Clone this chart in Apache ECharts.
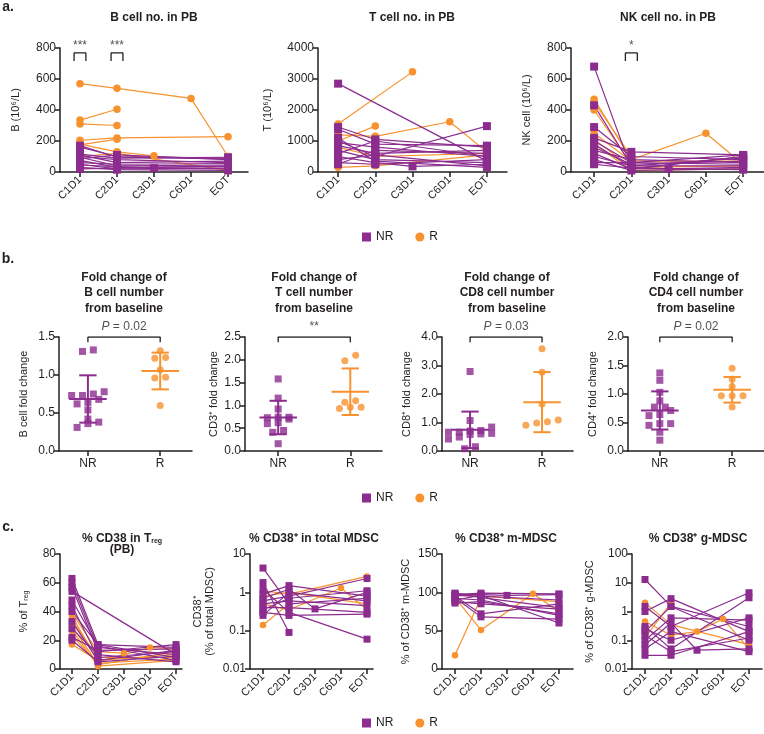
<!DOCTYPE html>
<html>
<head>
<meta charset="utf-8">
<script src="https://cdn.jsdelivr.net/npm/echarts@6/dist/echarts.min.js"></script>
<style>
html, body { margin: 0; background: #fff; }
#chart { width: 764px; height: 734px; }
</style>
</head>
<body>
<div id="chart"></div>
<script>
// ---- data ----
const timepoints = ['C1D1', 'C2D1', 'C3D1', 'C6D1', 'EOT'];
const groups = ['NR', 'R'];

// a. absolute counts (10^6/L), one row per patient, null = not sampled
const bCellNR = [
  [170, 95, null, null, 85], [160, 100, null, null, 90], [110, 60, null, null, 70],
  [100, 80, null, null, 60], [95, 40, null, null, 45], [85, 110, null, null, 80],
  [75, 30, null, null, 35], [60, 50, null, null, 55], [50, 20, null, null, 25],
  [45, 35, 25, null, 20], [30, 15, null, null, 10], [20, 25, null, null, 40],
  [115, 90, null, null, 95]
];
const bCellR = [
  [570, 540, null, 475, 100], [335, 405, null, null, null], [310, 300, null, null, null],
  [205, 220, null, null, 228], [180, 130, 105, null, null], [175, 212, null, null, null],
  [100, 120, null, null, 10]
];
const tCellNR = [
  [2850, null, null, null, 350], [1450, 1050, null, null, 800], [1380, 900, null, null, 850],
  [1000, 500, null, null, 1480], [950, 800, null, null, 500], [850, 600, null, null, 700],
  [700, 400, null, null, 300], [600, 1000, null, null, 500], [500, 300, 180, null, 250],
  [400, 550, null, null, 200], [300, 250, null, null, 400], [250, 700, null, null, 600],
  [1100, 350, null, null, 150]
];
const tCellR = [
  [1550, null, 3230, null, null], [1000, 1480, null, null, null], [1200, 1150, null, 1620, 650],
  [150, 200, null, null, 550], [800, 500, null, null, 600]
];
const nkCellNR = [
  [680, 20, null, null, 100], [430, 40, null, null, 90], [290, 100, null, null, 80],
  [220, 130, null, null, 110], [200, 60, null, null, 50], [180, 30, 20, null, 30],
  [160, 50, null, null, 70], [140, 80, null, null, 60], [120, 20, null, null, 100],
  [100, 40, null, null, 40], [80, 10, null, null, 20], [60, 60, null, null, 110],
  [50, 25, null, null, 15]
];
const nkCellR = [
  [470, 80, null, 250, 50], [450, 100, null, null, null], [400, 50, null, null, null],
  [250, 70, null, null, 70], [210, 30, null, null, 40], [180, 10, null, null, 20]
];

// b. fold change from baseline
const foldB_NR = [1.31, 1.33, 0.78, 0.73, 0.68, 0.73, 0.75, 0.62, 0.64, 0.54, 0.42, 0.38, 0.31, 0.36];
const foldB_R = [1.32, 1.23, 1.22, 1.07, 0.97, 0.96, 0.60];
const foldT_NR = [1.58, 1.16, 0.92, 0.74, 0.73, 0.74, 0.62, 0.70, 0.60, 0.45, 0.41, 0.16];
const foldT_R = [2.10, 1.98, 1.10, 0.96, 1.07, 0.96, 0.93];
const foldCD8_NR = [2.79, 1.07, 0.84, 0.72, 0.70, 0.66, 0.66, 0.62, 0.60, 0.58, 0.49, 0.42, 0.15, 0.08];
const foldCD8_R = [3.59, 2.76, 1.65, 1.09, 0.90, 1.03, 0.98];
const foldCD4_NR = [1.37, 1.24, 1.03, 0.88, 0.77, 0.71, 0.77, 0.64, 0.62, 0.48, 0.45, 0.48, 0.33, 0.19];
const foldCD4_R = [1.45, 1.26, 1.13, 0.97, 0.97, 0.97, 0.77];
const foldSig = ['P = 0.02', '**', 'P = 0.03', 'P = 0.02'];

// c. CD38 expression
const tregNR = [
  [63, 17, null, null, 15], [60, 15, null, null, 10], [57, 12, null, null, 17],
  [54, null, null, null, 10], [48, 16, null, null, 6], [44, 8, null, null, 12],
  [40, 17, null, null, 8], [33, 6, null, null, 13], [28, 10, null, null, 5],
  [22, 13, null, null, 14], [20, 5, null, null, 9]
];
const tregR = [
  [39, 12, 11, null, null], [37, 5, null, 15, 14], [34, 8, null, null, 8],
  [30, 3, null, null, 12], [27, 2, null, null, 6], [23, 4, null, null, 7], [17, 6, null, null, 10]
];
const mdscNR = [
  [4.3, 0.5, null, null, 0.7], [1.8, 0.09, null, null, null], [1.2, 0.3, null, null, 0.06],
  [0.9, 1.5, null, null, 0.8], [0.7, 1.2, 0.37, null, 1.0], [0.6, 0.8, null, null, 2.3],
  [0.5, 0.6, null, null, 0.45], [0.4, 0.4, null, null, 0.3], [0.3, 0.25, null, null, 0.27],
  [0.25, 1.0, null, null, 0.6], [0.35, 0.7, null, null, 1.1]
];
const mdscR = [
  [1.1, 0.9, null, null, 2.6], [0.14, 0.5, null, null, null],
  [0.5, 0.35, null, 1.3, 0.35], [0.8, 1.0, null, null, 0.5]
];
const mMdscNR = [
  [98, 97, 96, null, 97], [96, 95, null, null, 90], [95, 72, null, null, 85],
  [93, 68, null, null, 65], [92, 90, null, null, 70], [90, 96, null, null, 60],
  [88, 85, null, null, 78], [97, 99, null, null, 98], [99, 93, null, null, 80],
  [86, 88, null, null, 72]
];
const mMdscR = [
  [18, 93, null, null, null], [93, 51, null, 98, 75], [96, 95, null, null, 88]
];
const gMdscNR = [
  [13, 1.5, null, null, 0.1], [1.5, 0.3, null, null, 4.5], [1.0, 2.8, null, null, 0.2],
  [0.3, 0.05, null, null, 3.0], [0.2, 1.5, null, null, 0.3], [0.1, 0.6, null, null, 0.5],
  [0.07, 0.4, 0.045, null, 0.05], [0.05, 0.2, null, null, 0.04], [0.03, 0.03, null, null, 0.2],
  [0.15, 0.04, null, null, 0.12], [0.25, 0.1, null, null, 0.6]
];
const gMdscR = [
  [2.0, 0.35, null, null, 0.07], [0.45, 0.15, 0.2, 0.55, 0.05], [0.12, 2.0, null, null, null]
];

// ---- style ----
const PURPLE = '#8b2c8e';
const ORANGE = '#f7922f';
const INK = '#231f20';
const FONT = "'Liberation Sans Narrow', 'Liberation Sans', Arial, sans-serif";

const linePanels = [
  { nr: bCellNR, r: bCellR, box: [60, 48, 188, 124], x: [-0.54, 4.54], y: { type: 'value', min: 0, max: 800, interval: 200 },
    name: 'B (10⁶/L)', gap: 38, title: 'B cell no. in PB', tx: 154, ty: 18, size: 8 },
  { nr: tCellNR, r: tCellR, box: [318, 48, 189, 124], x: [-0.54, 4.54], y: { type: 'value', min: 0, max: 4000, interval: 1000 },
    name: 'T (10⁶/L)', gap: 44, title: 'T cell no. in PB', tx: 412, ty: 18, size: 8 },
  { nr: nkCellNR, r: nkCellR, box: [571, 48, 193, 124], x: [-0.62, 4.56], y: { type: 'value', min: 0, max: 800, interval: 200 },
    name: 'NK cell (10⁶/L)', gap: 38, title: 'NK cell no. in PB', tx: 668, ty: 18, size: 8 },
  { nr: tregNR, r: tregR, box: [60, 554, 122, 115], x: [-0.46, 4.23], y: { type: 'value', min: 0, max: 80, interval: 20 },
    name: '{a|% of T}{s|reg}', gap: 30, title: '{b|% CD38 in T}{s|reg}\n{b|(PB)}', tx: 122, ty: 544, size: 7 },
  { nr: mdscNR, r: mdscR, box: [250, 554, 123, 115], x: [-0.5, 4.23], y: { type: 'log', logBase: 10, min: 0.01, max: 10 },
    name: 'CD38⁺\n(% of total MDSC)', gap: 34, title: '% CD38⁺ in total MDSC', tx: 314, ty: 539, size: 7 },
  { nr: mMdscNR, r: mMdscR, box: [442, 554, 131, 115], x: [-0.5, 4.54], y: { type: 'value', min: 0, max: 150, interval: 50 },
    name: '% of CD38⁺ m-MDSC', gap: 30, title: '% CD38⁺ m-MDSC', tx: 506, ty: 539, size: 7 },
  { nr: gMdscNR, r: gMdscR, box: [632, 554, 130, 115], x: [-0.5, 4.5], y: { type: 'log', logBase: 10, min: 0.01, max: 100 },
    name: '% of CD38⁺ g-MDSC', gap: 36, title: '% CD38⁺ g-MDSC', tx: 698, ty: 539, size: 7 }
];
const sigLine = [
  { panel: 0, at: 0, text: '***' }, { panel: 0, at: 1, text: '***' }, { panel: 2, at: 1, text: '*' }
];

const foldPanels = [
  { nr: foldB_NR, r: foldB_R, box: [59, 337, 133, 114], x: [-0.40, 1.44], max: 1.5, interval: 0.5,
    name: 'B cell fold change', gap: 30, title: 'Fold change of\nB cell number\nfrom baseline', tx: 124 },
  { nr: foldT_NR, r: foldT_R, box: [245, 337, 137, 114], x: [-0.46, 1.44], max: 2.5, interval: 0.5,
    name: 'CD3⁺ fold change', gap: 26, title: 'Fold change of\nT cell number\nfrom baseline', tx: 314 },
  { nr: foldCD8_NR, r: foldCD8_R, box: [442, 337, 131, 114], x: [-0.39, 1.43], max: 4.0, interval: 1.0,
    name: 'CD8⁺ fold change', gap: 30, title: 'Fold change of\nCD8 cell number\nfrom baseline', tx: 507 },
  { nr: foldCD4_NR, r: foldCD4_R, box: [628, 337, 136, 114], x: [-0.44, 1.44], max: 2.0, interval: 0.5,
    name: 'CD4⁺ fold change', gap: 30, title: 'Fold change of\nCD4 cell number\nfrom baseline', tx: 696 }
];

// ---- build ----
const option = { animation: false, grid: [], xAxis: [], yAxis: [], series: [], graphic: [], legend: [] };

function axisLine() {
  return { show: true, onZero: false, lineStyle: { color: INK, width: 1.5 } };
}
function tick() {
  return { show: true, length: 5, lineStyle: { color: INK, width: 1.5 } };
}
function text(x, y, str, font, extra) {
  option.graphic.push({
    type: 'text', x: x, y: y, silent: true,
    style: Object.assign({ text: str, font: font, fill: INK, textAlign: 'center', textVerticalAlign: 'middle' }, extra || {})
  });
}

linePanels.forEach(function (p) {
  const gi = option.grid.length;
  option.grid.push({ left: p.box[0], top: p.box[1], width: p.box[2], height: p.box[3] });
  option.xAxis.push({
    type: 'value', gridIndex: gi, min: p.x[0], max: p.x[1], splitLine: { show: false },
    axisLine: axisLine(),
    axisTick: Object.assign(tick(), { customValues: [0, 1, 2, 3, 4] }),
    axisLabel: { customValues: [0, 1, 2, 3, 4], formatter: v => timepoints[Math.round(v)], rotate: 45,
      fontSize: 11, fontFamily: FONT, color: INK, margin: 6 }
  });
  option.yAxis.push(Object.assign({
    gridIndex: gi, splitLine: { show: false }, axisLine: axisLine(), axisTick: tick(),
    axisLabel: { fontSize: 12, fontFamily: FONT, color: INK, margin: 4, formatter: v => String(+(+v).toPrecision(3)) },
    name: p.name, nameLocation: 'middle', nameGap: p.gap,
    nameTextStyle: { fontSize: 11, fontFamily: FONT, color: INK, lineHeight: 12,
      rich: { a: { fontSize: 11, fontFamily: FONT, color: INK }, s: { fontSize: 7, fontFamily: FONT, color: INK, padding: [4, 0, 0, 0] } } }
  }, p.y));
  [[p.r, 'R', ORANGE, 'circle'], [p.nr, 'NR', PURPLE, 'rect']].forEach(function (g) {
    g[0].forEach(function (row) {
      const pts = [];
      row.forEach(function (v, i) { if (v != null) pts.push([i, v]); });
      option.series.push({
        type: 'line', name: g[1], xAxisIndex: gi, yAxisIndex: gi, data: pts, silent: true,
        symbol: g[3], symbolSize: g[3] === 'rect' ? p.size : p.size - 0.5, showSymbol: true,
        lineStyle: { color: g[2], width: 1.2 }, itemStyle: { color: g[2] }
      });
    });
  });
  text(p.tx, p.ty, p.title, 'bold 12px ' + FONT, {
    rich: { b: { font: 'bold 12px ' + FONT, fill: INK, lineHeight: 11 }, s: { font: 'bold 7px ' + FONT, fill: INK, lineHeight: 11, padding: [5, 0, 0, 0] } }
  });
});

sigLine.forEach(function (s) {
  const p = linePanels[s.panel];
  const top = p.y.max * 0.96, d = p.y.max * 0.065;
  option.series.push({
    type: 'line', xAxisIndex: s.panel, yAxisIndex: s.panel, silent: true, symbol: 'none',
    data: [[s.at - 0.16, top - d], [s.at - 0.16, top], [s.at + 0.16, top], [s.at + 0.16, top - d]],
    lineStyle: { color: INK, width: 1.3 }
  });
  option.series.push({
    type: 'scatter', xAxisIndex: s.panel, yAxisIndex: s.panel, silent: true, symbolSize: 0,
    data: [[s.at, top]],
    label: { show: true, position: 'top', distance: 1, formatter: s.text, fontSize: 12, fontFamily: FONT, color: INK }
  });
});

function meanSd(vals) {
  const m = vals.reduce((a, b) => a + b, 0) / vals.length;
  const v = vals.reduce((a, b) => a + (b - m) * (b - m), 0) / (vals.length - 1);
  return [m, Math.sqrt(v)];
}
// spread points that share nearly the same value sideways, like a column scatter
function swarm(vals, center, range) {
  const order = vals.map((v, i) => i).sort((a, b) => vals[a] - vals[b]);
  const xs = [];
  let cluster = [];
  const flush = function () {
    const n = cluster.length;
    cluster.forEach(function (k, j) { xs[k] = center + (j - (n - 1) / 2) * 0.15; });
    cluster = [];
  };
  order.forEach(function (k) {
    if (cluster.length && vals[k] - vals[cluster[0]] > range * 0.05) flush();
    cluster.push(k);
  });
  flush();
  return vals.map((v, i) => [xs[i], v]);
}

foldPanels.forEach(function (p, k) {
  const gi = option.grid.length;
  option.grid.push({ left: p.box[0], top: p.box[1], width: p.box[2], height: p.box[3] });
  option.xAxis.push({
    type: 'value', gridIndex: gi, min: p.x[0], max: p.x[1], splitLine: { show: false },
    axisLine: axisLine(),
    axisTick: Object.assign(tick(), { customValues: [0, 1] }),
    axisLabel: { customValues: [0, 1], formatter: v => groups[Math.round(v)], fontSize: 12, fontFamily: FONT, color: INK, margin: 7 }
  });
  option.yAxis.push({
    type: 'value', gridIndex: gi, min: 0, max: p.max, interval: p.interval, splitLine: { show: false },
    axisLine: axisLine(), axisTick: tick(),
    axisLabel: { fontSize: 12, fontFamily: FONT, color: INK, margin: 4, formatter: v => (+v).toFixed(1) },
    name: p.name, nameLocation: 'middle', nameGap: p.gap,
    nameTextStyle: { fontSize: 11, fontFamily: FONT, color: INK }
  });
  const stats = [meanSd(p.nr), meanSd(p.r)];
  option.series.push({
    type: 'scatter', name: 'NR', xAxisIndex: gi, yAxisIndex: gi, silent: true, symbol: 'rect', symbolSize: 7,
    itemStyle: { color: PURPLE }, data: swarm(p.nr, 0, p.max)
  });
  option.series.push({
    type: 'scatter', name: 'R', xAxisIndex: gi, yAxisIndex: gi, silent: true, symbol: 'circle', symbolSize: 7,
    itemStyle: { color: ORANGE }, data: swarm(p.r, 1, p.max)
  });
  option.series.push({
    type: 'custom', xAxisIndex: gi, yAxisIndex: gi, silent: true, z: 3,
    data: stats.map((s, i) => [i, s[0], s[1]]),
    renderItem: function (params, api) {
      const x = api.value(0), m = api.value(1), s = api.value(2);
      const color = x === 0 ? PURPLE : ORANGE;
      const pm = api.coord([x, m]), pt = api.coord([x, m + s]), pb = api.coord([x, Math.max(m - s, 0)]);
      const w = api.size([0.26, 0])[0], c = api.size([0.12, 0])[0];
      const st = { stroke: color, lineWidth: 2 };
      return {
        type: 'group', children: [
          { type: 'line', shape: { x1: pm[0] - w, y1: pm[1], x2: pm[0] + w, y2: pm[1] }, style: st },
          { type: 'line', shape: { x1: pt[0], y1: pt[1], x2: pb[0], y2: pb[1] }, style: st },
          { type: 'line', shape: { x1: pt[0] - c, y1: pt[1], x2: pt[0] + c, y2: pt[1] }, style: st },
          { type: 'line', shape: { x1: pb[0] - c, y1: pb[1], x2: pb[0] + c, y2: pb[1] }, style: st }
        ]
      };
    }
  });
  const top = p.max, d = p.max * 0.045;
  option.series.push({
    type: 'line', xAxisIndex: gi, yAxisIndex: gi, silent: true, symbol: 'none',
    data: [[0, top - d], [0, top], [1, top], [1, top - d]], lineStyle: { color: INK, width: 1.3 }
  });
  option.series.push({
    type: 'scatter', xAxisIndex: gi, yAxisIndex: gi, silent: true, symbolSize: 0, data: [[0.5, top]],
    label: { show: true, position: 'top', distance: 4, formatter: foldSig[k].replace(/^P/, '{i|P}'),
      fontSize: 12, fontFamily: FONT, color: INK, rich: { i: { fontSize: 12, fontFamily: FONT, fontStyle: 'italic', color: INK } } }
  });
  text(p.tx, 293, p.title, 'bold 12px ' + FONT, { lineHeight: 15.5 });
});

[226, 487, 712].forEach(function (top) {
  option.legend.push({
    left: 357, top: top, selectedMode: false, itemWidth: 9, itemHeight: 9, itemGap: 22,
    data: [{ name: 'NR', icon: 'rect' }, { name: 'R', icon: 'circle' }],
    textStyle: { fontSize: 12, fontFamily: FONT, color: INK }
  });
});

text(8, 7, 'a.', 'bold 14px ' + FONT);
text(8, 259, 'b.', 'bold 14px ' + FONT);
text(8, 527, 'c.', 'bold 14px ' + FONT);

const chart = echarts.init(document.getElementById('chart'));
chart.setOption(option);
</script>
</body>
</html>
